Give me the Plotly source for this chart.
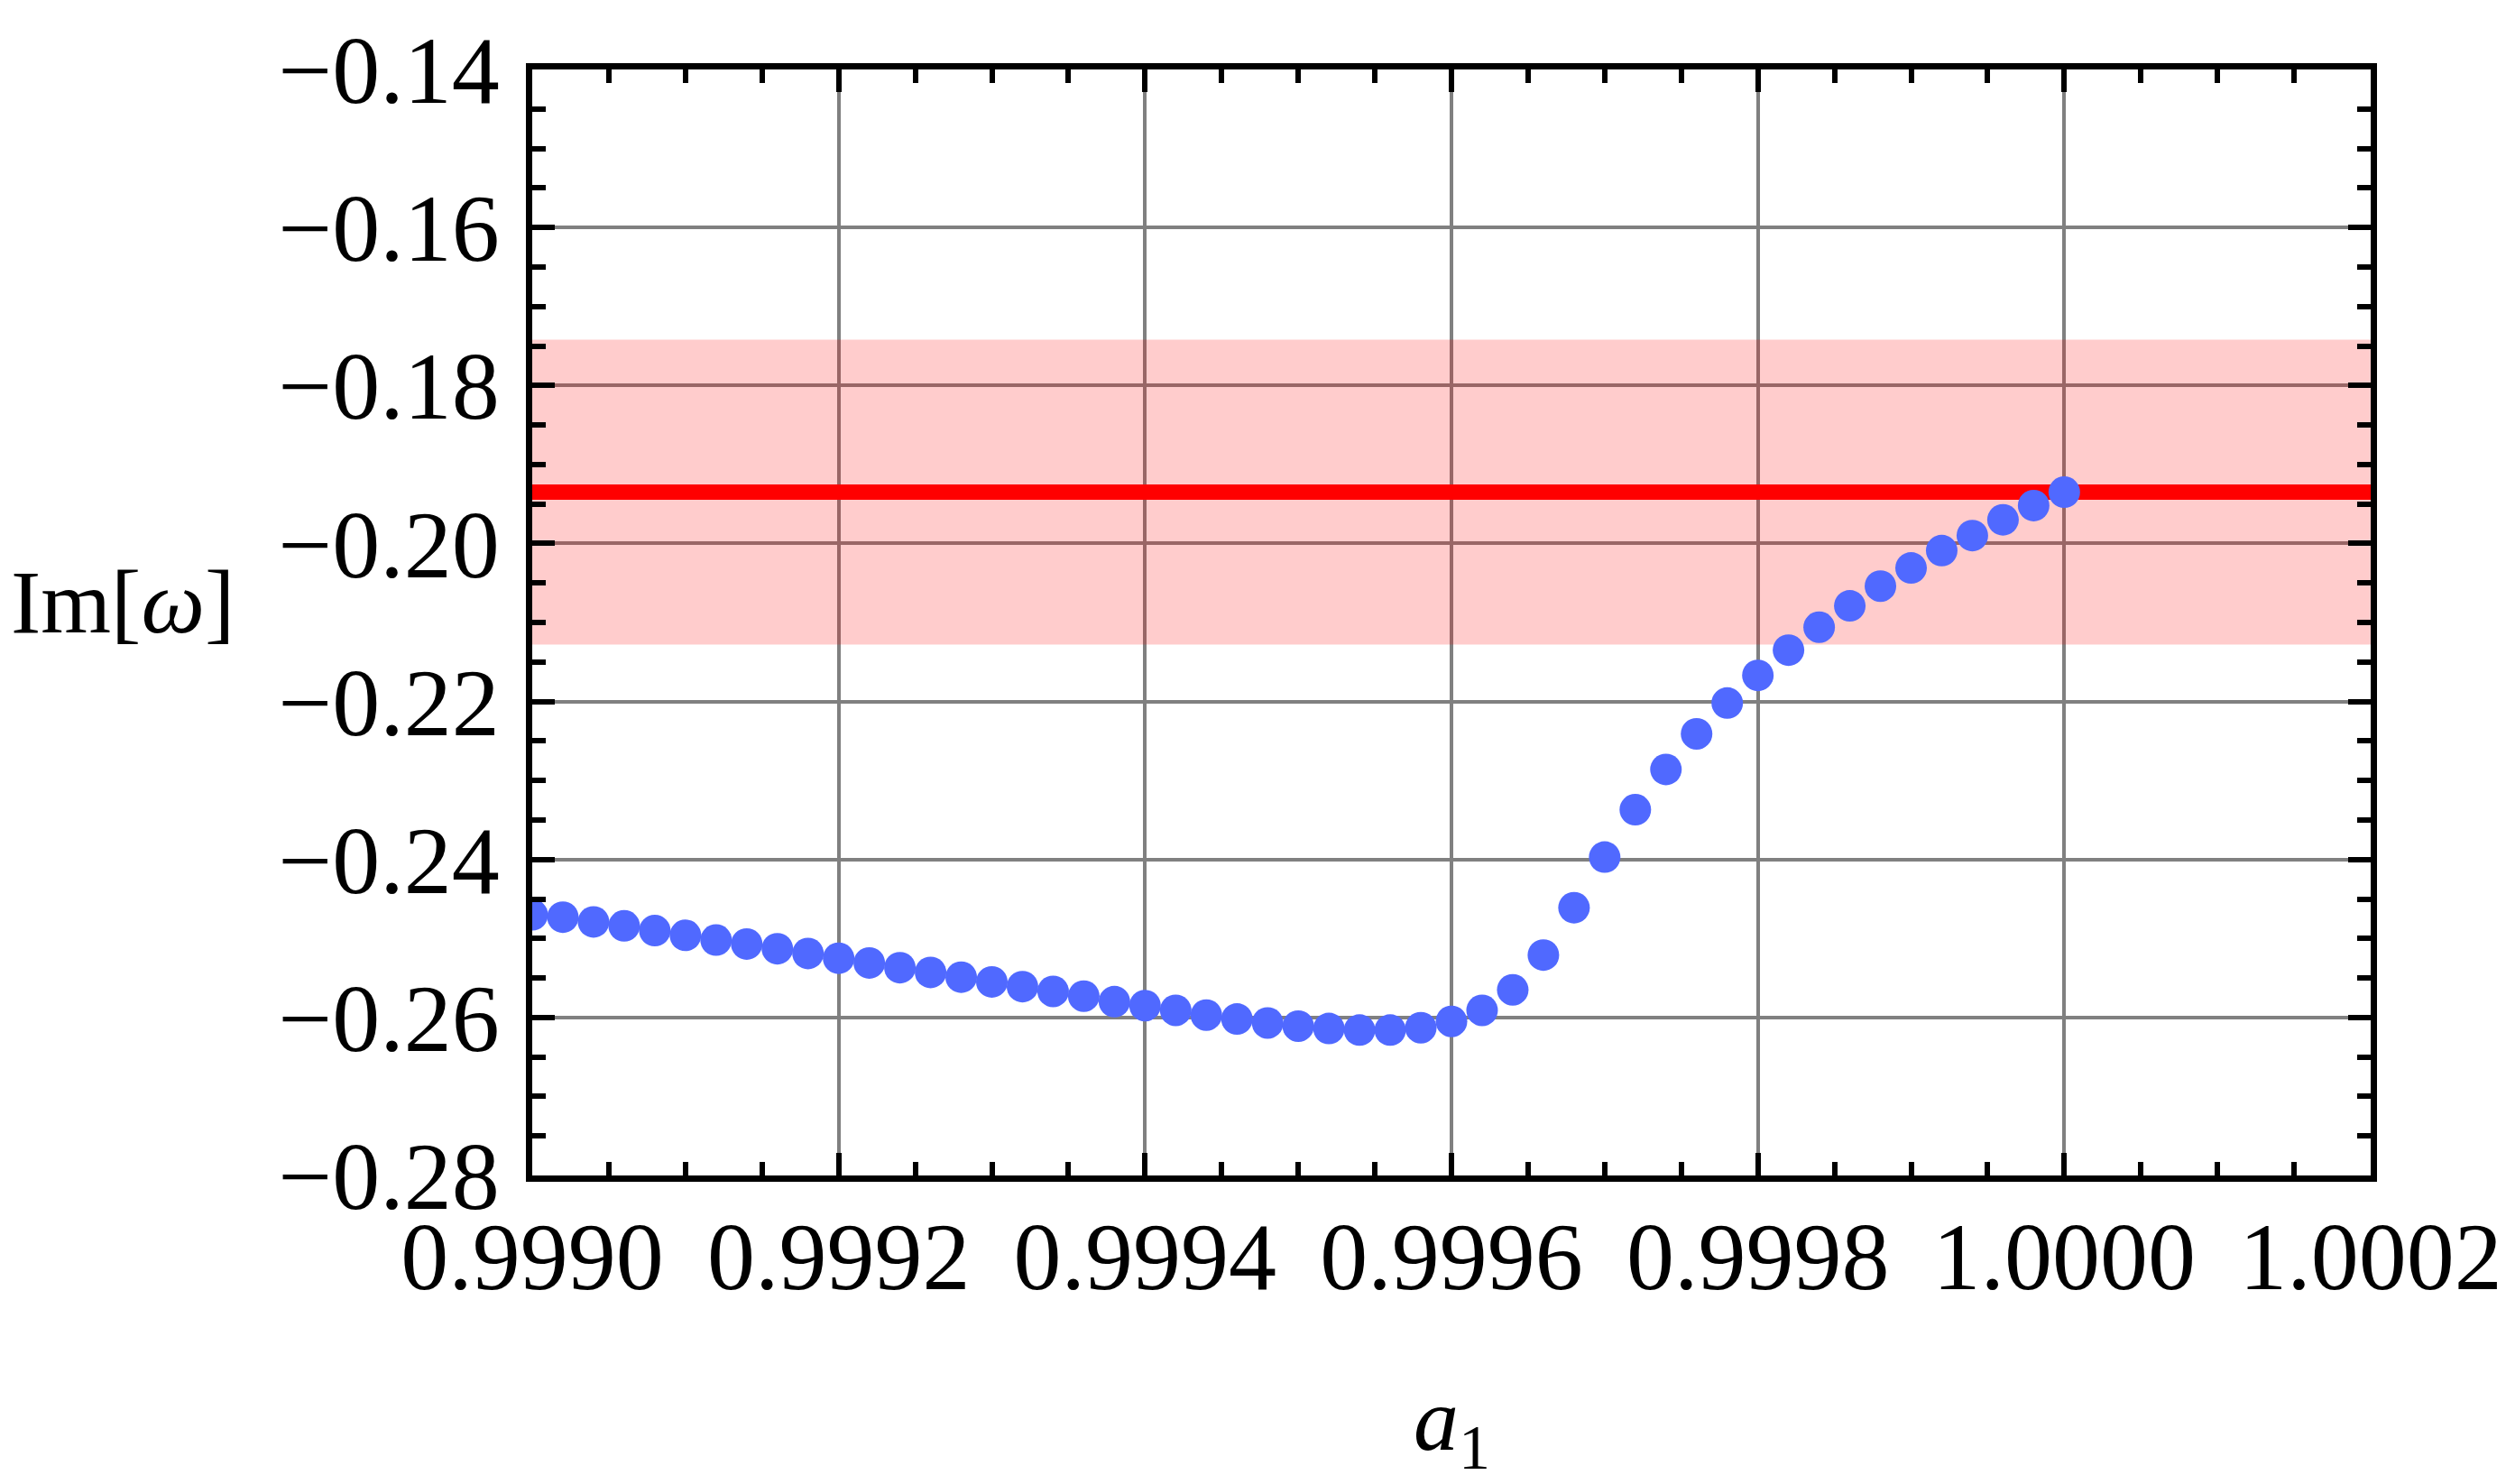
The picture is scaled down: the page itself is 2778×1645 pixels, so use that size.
import plotly.graph_objects as go

# ---- data ----
a1_start = 0.9990
a1_step = 0.00002
im_omega = [
    -0.2470, -0.2473, -0.2479, -0.2484, -0.2490, -0.2496, -0.2502, -0.2507, -0.2513, -0.2519,
    -0.2525, -0.2531, -0.2537, -0.2543, -0.2549, -0.2555, -0.2561, -0.2567, -0.2573, -0.2580,
    -0.2585, -0.2591, -0.2597, -0.2602, -0.2607, -0.2611, -0.2614, -0.2616, -0.2616, -0.2613,
    -0.2605, -0.2591, -0.2565, -0.2521, -0.2461, -0.2397, -0.2337, -0.2286, -0.2241, -0.2202,
    -0.2167, -0.2135, -0.2106, -0.2079, -0.2054, -0.2031, -0.2009, -0.1990, -0.1970, -0.1952,
    -0.1935,
]
a1 = [round(a1_start + a1_step * k, 6) for k in range(len(im_omega))]

ref_value = -0.1935
ref_halfwidth = 0.0193

x_range = [0.9990, 1.0002]
y_range = [-0.28, -0.14]
x_ticks = [0.9990, 0.9992, 0.9994, 0.9996, 0.9998, 1.0000, 1.0002]
y_ticks = [-0.28, -0.26, -0.24, -0.22, -0.20, -0.18, -0.16, -0.14]

W, H = 2778, 1645
L, R, T, B = 582, 145, 66, 350
FONT = "Liberation Serif"

fig = go.Figure()

# pink uncertainty band (trace, so it sits above the gridlines)
fig.add_trace(go.Scatter(
    x=[x_range[0], x_range[1], x_range[1], x_range[0], x_range[0]],
    y=[ref_value + ref_halfwidth, ref_value + ref_halfwidth,
       ref_value - ref_halfwidth, ref_value - ref_halfwidth,
       ref_value + ref_halfwidth],
    fill="toself", fillcolor="rgba(255,0,0,0.2)",
    line=dict(width=0), mode="lines", hoverinfo="skip", showlegend=False,
))
# red reference line
fig.add_trace(go.Scatter(
    x=x_range, y=[ref_value, ref_value], mode="lines",
    line=dict(color="#FF0000", width=17), showlegend=False, hoverinfo="skip",
))
# data points
fig.add_trace(go.Scatter(
    x=a1, y=im_omega, mode="markers",
    marker=dict(color="rgb(80,105,255)", size=35, line=dict(width=0)),
    showlegend=False,
))

axis_common = dict(
    showline=True, linecolor="black", linewidth=7, mirror="allticks",
    ticks="inside", ticklen=25, tickwidth=6, tickcolor="black",
    showgrid=True, gridcolor="#808080", gridwidth=4,
    zeroline=False, ticklabeloverflow="allow",
    tickfont=dict(family=FONT, size=106, color="black"),
)

fig.update_xaxes(
    range=x_range, tickvals=x_ticks, tickformat=".4f",
    minor=dict(ticks="inside", ticklen=15, tickwidth=6, tickcolor="black",
               dtick=0.00005, tick0=0.9990, showgrid=False),
    ticklabelstandoff=-8,
    **axis_common,
)
fig.update_yaxes(
    range=y_range, tickvals=y_ticks, tickformat=".2f",
    minor=dict(ticks="inside", ticklen=15, tickwidth=6, tickcolor="black",
               dtick=0.005, tick0=-0.28, showgrid=False),
    ticklabelstandoff=8,
    **axis_common,
)

fig.add_annotation(
    text="Im[<i>ω</i>]", xref="paper", yref="paper", x=0, y=0.518,
    xanchor="left", yanchor="middle", xshift=-(L - 2), showarrow=False,
    font=dict(family=FONT, size=100, color="black"),
)
fig.add_annotation(
    text="<i>a</i><sub>1</sub>", xref="paper", yref="paper", x=0.5, y=0,
    xanchor="center", yanchor="bottom", yshift=-(B - 8),
    showarrow=False,
    font=dict(family=FONT, size=100, color="black"),
)

fig.update_layout(
    width=W, height=H, autosize=False,
    margin=dict(l=L, r=R, t=T, b=B, pad=0),
    paper_bgcolor="white", plot_bgcolor="white",
)

fig.write_html("out.html")
